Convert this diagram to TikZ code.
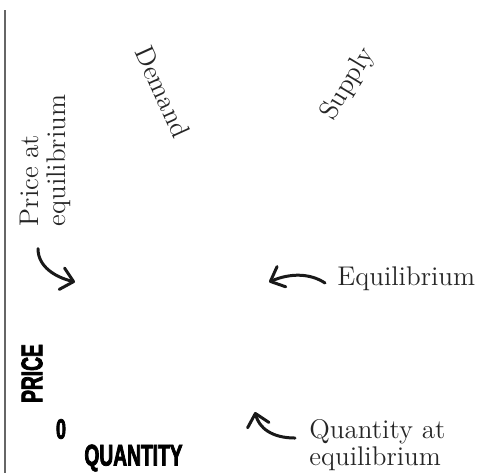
\documentclass[tikz,border=0pt]{standalone}
\usepackage{fontspec}
\usetikzlibrary{arrows.meta,calc}
% heavy condensed sans for the axis titles
\newfontfamily\condfont[FakeStretch=0.64,BoldFeatures={FakeBold=2.5}]{Liberation Sans}

\begin{document}
\begin{tikzpicture}[x=0.5pt,y=-0.5pt,
  lbl/.style={inner sep=0pt,font=\fontsize{13.5}{13.5}\selectfont,text=black!85},
  lbltwo/.style={lbl,align=left},
  axistitle/.style={inner sep=0pt,font=\condfont\bfseries\fontsize{15}{17}\selectfont},
  axisline/.style={line width=1pt,draw=black!60},
  pointer/.style={line width=1.5pt,line cap=round,draw=black!90,
    -{Straight Barb[length=6pt,width=11pt,round]}}]

\useasboundingbox (0,0) rectangle (490,473);

% price axis
\draw[axisline] (4.5,10) -- (4.5,473);

% curve labels
\node[lbl,rotate=-65.6] (demand) at (163,92) {Demand};
\node[lbl,rotate=59] (supply) at (348,84) {Supply};

% annotations
\node[lbltwo,rotate=90] (pe) at (45,160.5) {Price at\\equilibrium};
\node[lbl,anchor=base west] (eq) at (337,285) {Equilibrium};
\node[lbltwo,anchor=north west] (qe) at (309,419) {Quantity at\\equilibrium};

% axis titles
\node[axistitle,rotate=90] (price) at (32,373.5) {PRICE};
\node[axistitle,font=\condfont\bfseries\fontsize{14}{16}\selectfont] (zero) at (61,429) {0};
\node[axistitle] (quantity) at (133.5,458) {QUANTITY};

% points the annotations refer to
\coordinate (peq) at (75,282);
\coordinate (eqpt) at (269,282);
\coordinate (qeq) at (255,412);

% annotation pointers
\draw[pointer] ($(pe.west)+(-7,22)$) .. controls +(0,18) and (55,277) .. (peq);
\draw[pointer] ($(eq.base west)+(-12,-2)$) .. controls (310,273) and (290,273) .. (eqpt);
\draw[pointer] ($(qe.north west)+(-14,19)$) .. controls (272,438) and (259,428) .. (qeq);
\end{tikzpicture}
\end{document}
